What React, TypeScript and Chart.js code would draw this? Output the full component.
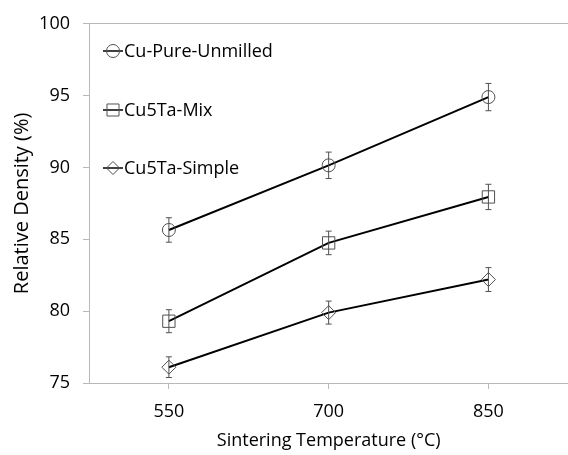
import React, { useEffect, useRef } from "react";
import { Chart, registerables } from "chart.js";

Chart.register(...registerables);

const categories = ["550", "700", "850"];
const seriesNames = ["Cu-Pure-Unmilled", "Cu5Ta-Mix", "Cu5Ta-Simple"];
const unmilled = [85.65, 90.15, 94.9];
const unmilledErr = [0.85, 0.92, 0.95];
const mix = [79.3, 84.75, 87.95];
const mixErr = [0.8, 0.82, 0.88];
const simple = [76.1, 79.9, 82.2];
const simpleErr = [0.72, 0.8, 0.83];
const yTicks = [75, 80, 85, 90, 95, 100];

const FONT = "'Open Sans', Lato, sans-serif";
const FSIZE = 18;
const AXIS_GRAY = "#b8b8b8";
const MARK_GRAY = "#505050";

const errorBarsPlugin = {
  id: "errorBars",
  afterDatasetsDraw(chart: any) {
    const ctx = chart.ctx;
    const y = chart.scales.y;
    chart.data.datasets.forEach((ds: any, i: number) => {
      const meta = chart.getDatasetMeta(i);
      const errs: number[] = ds.errors || [];
      meta.data.forEach((pt: any, j: number) => {
        const v = ds.data[j];
        const e = errs[j];
        if (e == null) return;
        const yTop = y.getPixelForValue(v + e);
        const yBot = y.getPixelForValue(v - e);
        const x = pt.x;
        ctx.save();
        ctx.strokeStyle = MARK_GRAY;
        ctx.lineWidth = 1;
        ctx.beginPath();
        ctx.moveTo(x, yTop);
        ctx.lineTo(x, yBot);
        ctx.moveTo(x - 3, yTop);
        ctx.lineTo(x + 3, yTop);
        ctx.moveTo(x - 3, yBot);
        ctx.lineTo(x + 3, yBot);
        ctx.stroke();
        ctx.restore();
      });
    });
  },
};

function drawMarker(ctx: CanvasRenderingContext2D, style: string, x: number, y: number, r: number) {
  ctx.beginPath();
  if (style === "circle") {
    ctx.arc(x, y, r, 0, Math.PI * 2);
  } else if (style === "rect") {
    const s = Math.SQRT1_2 * r;
    ctx.rect(x - s, y - s, 2 * s, 2 * s);
  } else {
    ctx.moveTo(x, y - r);
    ctx.lineTo(x + r, y);
    ctx.lineTo(x, y + r);
    ctx.lineTo(x - r, y);
    ctx.closePath();
  }
  ctx.stroke();
}

const legendPlugin = {
  id: "innerLegend",
  afterDraw(chart: any) {
    const ctx = chart.ctx;
    const rows = [51, 110, 168];
    chart.data.datasets.forEach((ds: any, i: number) => {
      const yy = rows[i];
      ctx.save();
      ctx.strokeStyle = "#000";
      ctx.lineWidth = 1.5;
      ctx.beginPath();
      ctx.moveTo(103, yy);
      ctx.lineTo(123, yy);
      ctx.stroke();
      ctx.strokeStyle = MARK_GRAY;
      ctx.lineWidth = 1;
      drawMarker(ctx, ds.pointStyle, 113, yy, ds.pointStyle === "rect" ? 8.5 : 6.5);
      ctx.fillStyle = "#000";
      ctx.font = `${FSIZE}px ${FONT}`;
      ctx.textAlign = "left";
      ctx.textBaseline = "middle";
      ctx.fillText(ds.label, 124, yy + 1);
      ctx.restore();
    });
  },
};

export default function App() {
  const canvasRef = useRef<HTMLCanvasElement | null>(null);

  useEffect(() => {
    document.body.style.margin = "0";
    document.body.style.overflow = "hidden";
    const canvas = canvasRef.current;
    if (!canvas) return;
    const mk = (label: string, data: number[], errors: number[], style: string, r: number) => ({
      label,
      data,
      errors,
      borderColor: "#000",
      borderWidth: 2,
      pointStyle: style,
      pointRadius: r,
      pointHoverRadius: r,
      pointBorderColor: MARK_GRAY,
      pointBorderWidth: 1,
      pointBackgroundColor: "rgba(0,0,0,0)",
      fill: false,
      tension: 0,
    });
    const chart = new Chart(canvas, {
      type: "line",
      data: {
        labels: categories,
        datasets: [
          mk(seriesNames[0], unmilled, unmilledErr, "circle", 6.5),
          mk(seriesNames[1], mix, mixErr, "rect", 8.7),
          mk(seriesNames[2], simple, simpleErr, "rectRot", 7),
        ] as any,
      },
      options: {
        animation: false,
        responsive: false,
        maintainAspectRatio: false,
        layout: { padding: { top: 20.7, right: 1.5, left: 0, bottom: 0 } },
        plugins: {
          legend: { display: false },
          tooltip: { enabled: false },
        },
        scales: {
          x: {
            type: "category",
            offset: true,
            afterFit: (s: any) => {
              s.height = 72;
            },
            grid: {
              drawOnChartArea: false,
              drawTicks: true,
              tickLength: 6,
              tickColor: AXIS_GRAY,
              offset: false,
            },
            border: { display: true, color: AXIS_GRAY, width: 1 },
            ticks: {
              color: "#000",
              font: { family: FONT, size: FSIZE },
              padding: 12,
              maxRotation: 0,
            },
            title: {
              display: true,
              text: "Sintering Temperature (°C)",
              color: "#000",
              font: { family: FONT, size: FSIZE },
              padding: { top: 0, bottom: 3 },
            },
          },
          y: {
            type: "linear",
            min: 75,
            max: 100,
            afterFit: (s: any) => {
              s.width = 89;
            },
            afterBuildTicks: (s: any) => {
              s.ticks = yTicks.map((v) => ({ value: v }));
            },
            grid: {
              drawOnChartArea: true,
              drawTicks: true,
              tickLength: 6,
              tickColor: AXIS_GRAY,
              color: (c: any) => (c.tick && c.tick.value === 100 ? AXIS_GRAY : "rgba(0,0,0,0)"),
            },
            border: { display: true, color: AXIS_GRAY, width: 1 },
            ticks: {
              color: "#000",
              font: { family: FONT, size: FSIZE },
              padding: 13,
            },
            title: {
              display: true,
              text: "Relative Density (%)",
              color: "#000",
              font: { family: FONT, size: 20 },
              padding: { top: 10, bottom: 0 },
            },
          },
        },
      },
      plugins: [errorBarsPlugin, legendPlugin],
    });
    return () => chart.destroy();
  }, []);

  return (
    <div style={{ width: 568, height: 455, overflow: "hidden", position: "relative" }}>
      <canvas ref={canvasRef} width={578} height={455} style={{ display: "block", width: 578, height: 455 }} />
    </div>
  );
}
